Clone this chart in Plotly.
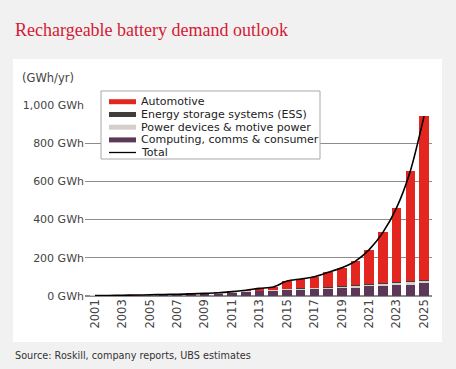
import plotly.graph_objects as go

years = list(range(2001, 2026))
computing = [2, 2.5, 3, 4, 5, 6, 7, 8, 11, 14, 19, 24, 28, 30, 33, 34, 37, 40, 44, 45, 50, 53, 56, 60, 66]
power = [0.5, 0.5, 0.7, 0.8, 1, 1.2, 1.5, 1.8, 2, 2.3, 2.6, 3, 3, 3.5, 4, 5, 5.5, 6, 7, 9, 11, 12, 13, 14, 14]
ess = [0, 0, 0, 0, 0, 0, 0, 0, 0, 0, 0, 0.2, 0.3, 0.5, 0.8, 1, 1.2, 1.5, 2, 2.5, 3, 3.5, 4, 4, 4]
total = [2.5, 3, 4, 5, 6, 8, 9, 11, 14, 17, 23, 30, 40, 47, 78, 89, 101, 124, 148, 183, 243, 333, 463, 655, 942]
automotive = [max(t - c - p - e, 0) for t, c, p, e in zip(total, computing, power, ess)]

x_ticks = [str(y) for y in range(2001, 2026, 2)]
y_ticks = [0, 200, 400, 600, 800, 1000]
y_labels = ["0 GWh", "200 GWh", "400 GWh", "600 GWh", "800 GWh", "1,000 GWh"]

C_AUTO = "#e3261f"
C_ESS = "#403d3b"
C_POW = "#d3cfca"
C_COMP = "#5c3858"

FONT = "DejaVu Sans"

fig = go.Figure()
for name, vals, col in [("Computing, comms & consumer", computing, C_COMP),
                        ("Power devices & motive power", power, C_POW),
                        ("Energy storage systems (ESS)", ess, C_ESS),
                        ("Automotive", automotive, C_AUTO)]:
    fig.add_trace(go.Bar(x=years, y=vals, marker=dict(color=col, line=dict(width=0)),
                         name=name, showlegend=False))

fig.add_trace(go.Scatter(x=years, y=total, mode="lines",
                         line=dict(color="black", width=1.6, shape="spline", smoothing=0.8),
                         name="Total", showlegend=False))

W, H = 456, 369
L, R, T, B = 85, 24, 59, 73
PLOT_TOP = 105
pw, ph = W - L - R, H - T - B

def px(xp):
    return (xp - L) / pw

def py(yp):
    return (H - B - yp) / ph

# white panel
fig.add_shape(type="rect", xref="paper", yref="paper", x0=px(13), x1=px(442), y0=py(342), y1=py(59),
              fillcolor="white", line=dict(width=0), layer="below")

# manual legend
legend_items = [("Automotive", C_AUTO, 5), ("Energy storage systems (ESS)", C_ESS, 5),
                ("Power devices & motive power", C_POW, 5), ("Computing, comms & consumer", C_COMP, 5),
                ("Total", "black", 1.3)]
fig.add_shape(type="rect", xref="paper", yref="paper", x0=px(101), x1=px(320), y0=py(159), y1=py(91),
              fillcolor="white", line=dict(color="#a8a8a8", width=1), layer="above")
row_y = [101.7, 114.5, 127.2, 139.9, 152.5]
for (name, col, w), yy in zip(legend_items, row_y):
    fig.add_shape(type="line", xref="paper", yref="paper", x0=px(109), x1=px(136), y0=py(yy), y1=py(yy),
                  line=dict(color=col, width=w), layer="above")
    fig.add_annotation(text=name, xref="paper", yref="paper", x=px(139), y=py(yy),
                       xanchor="left", yanchor="middle", showarrow=False,
                       font=dict(family=FONT, size=11, color="#222"))

fig.add_annotation(text="Rechargeable battery demand outlook", xref="paper", yref="paper",
                   x=px(13), y=py(30), xanchor="left", yanchor="middle", showarrow=False,
                   font=dict(family="Liberation Serif", size=18, color="#d41a35"))
fig.add_annotation(text="(GWh/yr)", xref="paper", yref="paper",
                   x=px(20), y=py(78), xanchor="left", yanchor="middle", showarrow=False,
                   font=dict(family=FONT, size=11.5, color="#444"))
fig.add_annotation(text="Source: Roskill, company reports, UBS estimates", xref="paper", yref="paper",
                   x=px(13), y=py(355), xanchor="left", yanchor="middle", showarrow=False,
                   font=dict(family=FONT, size=9.7, color="#333"))

fig.update_layout(
    width=W, height=H,
    margin=dict(l=L, r=R, t=T, b=B),
    paper_bgcolor="#f1f1f1", plot_bgcolor="rgba(0,0,0,0)",
    barmode="stack", bargap=0.3, showlegend=False,
    font=dict(family=FONT, size=11, color="#444"),
    xaxis=dict(range=[2000.27, 2025.58], tickvals=[int(v) for v in x_ticks], ticktext=x_ticks,
               tickangle=-90, showgrid=False, zeroline=False, showline=False, ticks="",
               automargin=False, tickfont=dict(size=11.5, color="#444")),
    yaxis=dict(range=[0, 1000], domain=[0, (H - B - PLOT_TOP) / ph], tickvals=y_ticks, ticktext=y_labels,
               showgrid=True, gridcolor="#8c8c8c", gridwidth=1, zeroline=True, zerolinecolor="#8c8c8c",
               showline=False, ticks="", automargin=False, tickfont=dict(size=11, color="#444")),
)

fig.write_html("out.html", config={"displayModeBar": False},
               post_script="document.body.style.margin='0';document.body.style.background='#f1f1f1';document.body.style.overflow='hidden';")
